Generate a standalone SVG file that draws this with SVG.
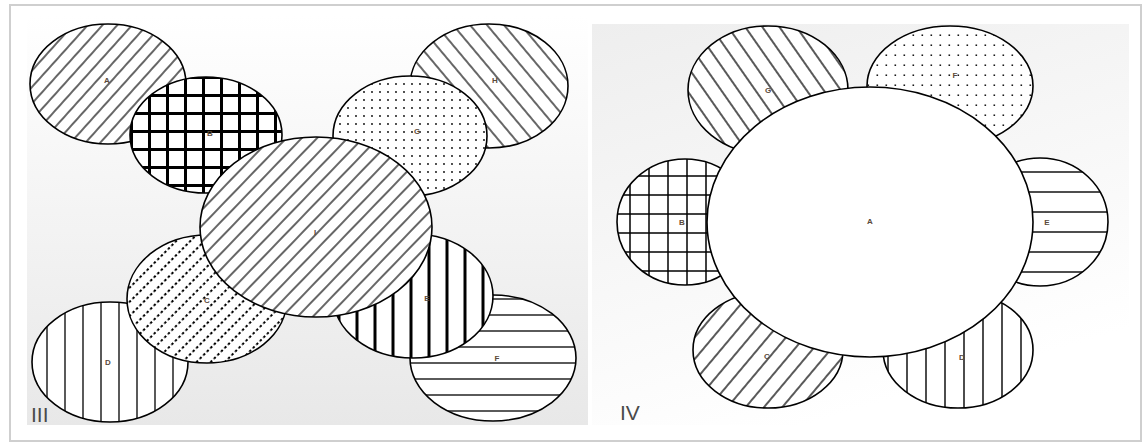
<svg xmlns="http://www.w3.org/2000/svg" width="1146" height="443" viewBox="0 0 1146 443">
<defs>
<linearGradient id="gl" x1="0" y1="0" x2="0" y2="1"><stop offset="0" stop-color="#ffffff"/><stop offset="1" stop-color="#e8e8e8"/></linearGradient>
<linearGradient id="gr" x1="0" y1="0" x2="0.4" y2="1"><stop offset="0" stop-color="#eeeeee"/><stop offset="1" stop-color="#ffffff"/></linearGradient>
<pattern id="pSlash11" width="11" height="11" patternUnits="userSpaceOnUse" patternTransform="rotate(42)"><rect width="11" height="11" fill="#fff"/><line x1="5" y1="0" x2="5" y2="11" stroke="#000" stroke-width="1.2"/></pattern>
<pattern id="pSlashI" width="11" height="11" patternUnits="userSpaceOnUse" patternTransform="rotate(44)"><rect width="11" height="11" fill="#fff"/><line x1="5" y1="0" x2="5" y2="11" stroke="#000" stroke-width="1.2"/></pattern>
<pattern id="pBack13" width="13" height="13" patternUnits="userSpaceOnUse" patternTransform="rotate(-40)"><rect width="13" height="13" fill="#fff"/><line x1="6" y1="0" x2="6" y2="13" stroke="#000" stroke-width="1.2"/></pattern>
<pattern id="pGridThick" width="18" height="18" patternUnits="userSpaceOnUse" x="4" y="4"><rect width="18" height="18" fill="#fff"/><line x1="0" y1="1.5" x2="18" y2="1.5" stroke="#000" stroke-width="3"/><line x1="1.5" y1="0" x2="1.5" y2="18" stroke="#000" stroke-width="3"/></pattern>
<pattern id="pDots8" width="8" height="8" patternUnits="userSpaceOnUse"><rect width="8" height="8" fill="#fff"/><circle cx="4" cy="4" r="0.9" fill="#000"/></pattern>
<pattern id="pDashSlash" width="10" height="10" patternUnits="userSpaceOnUse" patternTransform="rotate(45)"><rect width="10" height="10" fill="#fff"/><line x1="5" y1="0" x2="5" y2="10" stroke="#000" stroke-width="2" stroke-dasharray="2.5 2.5"/></pattern>
<pattern id="pVert18" width="18" height="10" patternUnits="userSpaceOnUse" x="2"><rect width="18" height="10" fill="#fff"/><line x1="9" y1="0" x2="9" y2="10" stroke="#000" stroke-width="1.3"/></pattern>
<pattern id="pVertThick" width="18" height="10" patternUnits="userSpaceOnUse" x="6"><rect width="18" height="10" fill="#fff"/><line x1="9" y1="0" x2="9" y2="10" stroke="#000" stroke-width="3"/></pattern>
<pattern id="pHoriz16" width="10" height="16" patternUnits="userSpaceOnUse" y="3"><rect width="10" height="16" fill="#fff"/><line x1="0" y1="8" x2="10" y2="8" stroke="#000" stroke-width="1.3"/></pattern>
<pattern id="pBack14" width="14" height="14" patternUnits="userSpaceOnUse" patternTransform="rotate(-35)"><rect width="14" height="14" fill="#fff"/><line x1="7" y1="0" x2="7" y2="14" stroke="#000" stroke-width="1.3"/></pattern>
<pattern id="pDots9" width="9" height="10" patternUnits="userSpaceOnUse"><rect width="9" height="10" fill="#fff"/><rect x="3.5" y="4.5" width="1.6" height="1.4" fill="#000"/></pattern>
<pattern id="pHoriz20" width="10" height="20" patternUnits="userSpaceOnUse" y="2"><rect width="10" height="20" fill="#fff"/><line x1="0" y1="10" x2="10" y2="10" stroke="#000" stroke-width="1.4"/></pattern>
<pattern id="pGrid19" width="19" height="19" patternUnits="userSpaceOnUse" x="2" y="4"><rect width="19" height="19" fill="#fff"/><line x1="0" y1="1" x2="19" y2="1" stroke="#000" stroke-width="1.5"/><line x1="1" y1="0" x2="1" y2="19" stroke="#000" stroke-width="1.5"/></pattern>
<pattern id="pSlash14" width="14" height="14" patternUnits="userSpaceOnUse" patternTransform="rotate(40)"><rect width="14" height="14" fill="#fff"/><line x1="7" y1="0" x2="7" y2="14" stroke="#000" stroke-width="1.3"/></pattern>
<pattern id="pVert19" width="19" height="10" patternUnits="userSpaceOnUse" x="5"><rect width="19" height="10" fill="#fff"/><line x1="9" y1="0" x2="9" y2="10" stroke="#000" stroke-width="1.4"/></pattern>
</defs>
<style>
.e{stroke:#000;stroke-width:1.6}
.lb{font-family:"Liberation Sans",Arial,sans-serif;font-size:8px;font-weight:bold;fill:#5a4a3a;text-anchor:middle;dominant-baseline:central}
.num{font-family:"Liberation Sans",Arial,sans-serif;font-size:21px;fill:#4a4a4a;}
</style>
<rect x="10" y="5" width="1131" height="436" fill="#fff" stroke="#cfcfcf" stroke-width="2"/>
<rect x="27" y="16" width="561" height="409" fill="url(#gl)"/>
<rect x="592" y="24" width="537" height="401" fill="url(#gr)"/>

<g id="left-panel">
<g id="L-A"><ellipse class="e" cx="108" cy="84" rx="78" ry="60" fill="url(#pSlash11)"/><text class="lb" x="107" y="80">A</text></g>
<g id="L-H"><ellipse class="e" cx="489" cy="86" rx="79" ry="62" fill="url(#pBack13)"/><text class="lb" x="495" y="80">H</text></g>
<g id="L-D"><ellipse class="e" cx="110" cy="362" rx="78" ry="60" fill="url(#pVert18)"/><text class="lb" x="108" y="362">D</text></g>
<g id="L-F"><ellipse class="e" cx="493" cy="358" rx="83" ry="63" fill="url(#pHoriz16)"/><text class="lb" x="497" y="358">F</text></g>
<g id="L-B"><ellipse class="e" cx="206" cy="135" rx="76" ry="58" fill="url(#pGridThick)"/><text class="lb" x="210" y="133">B</text></g>
<g id="L-G"><ellipse class="e" cx="410" cy="136" rx="77" ry="60" fill="url(#pDots8)"/><text class="lb" x="417" y="131">G</text></g>
<g id="L-C"><ellipse class="e" cx="207" cy="299" rx="80" ry="64" fill="url(#pDashSlash)"/><text class="lb" x="207" y="300">C</text></g>
<g id="L-E"><ellipse class="e" cx="413" cy="296" rx="80" ry="62" fill="url(#pVertThick)"/><text class="lb" x="427" y="298">E</text></g>
<g id="L-I"><ellipse class="e" cx="316" cy="227" rx="116" ry="90" fill="url(#pSlashI)"/><text class="lb" x="315" y="232">I</text></g>
<text class="num" x="31" y="422">III</text>
</g>

<g id="right-panel">
<g id="R-G"><ellipse class="e" cx="768" cy="90" rx="80" ry="64" fill="url(#pBack14)"/><text class="lb" x="768" y="90">G</text></g>
<g id="R-F"><ellipse class="e" cx="950" cy="86" rx="83" ry="60" fill="url(#pDots9)"/><text class="lb" x="955" y="75">F</text></g>
<g id="R-E"><ellipse class="e" cx="1040" cy="222" rx="68" ry="64" fill="url(#pHoriz20)"/><text class="lb" x="1047" y="222">E</text></g>
<g id="R-B"><ellipse class="e" cx="685" cy="222" rx="68" ry="63" fill="url(#pGrid19)"/><text class="lb" x="682" y="222">B</text></g>
<g id="R-C"><ellipse class="e" cx="768" cy="350" rx="75" ry="58" fill="url(#pSlash14)"/><text class="lb" x="767" y="356">C</text></g>
<g id="R-D"><ellipse class="e" cx="958" cy="350" rx="75" ry="58" fill="url(#pVert19)"/><text class="lb" x="962" y="357">D</text></g>
<g id="R-A"><ellipse class="e" cx="870" cy="222" rx="163" ry="135" fill="#fff"/><text class="lb" x="870" y="221">A</text></g>
<text class="num" x="620" y="420">IV</text>
</g>
<g id="connectors"/>
</svg>
